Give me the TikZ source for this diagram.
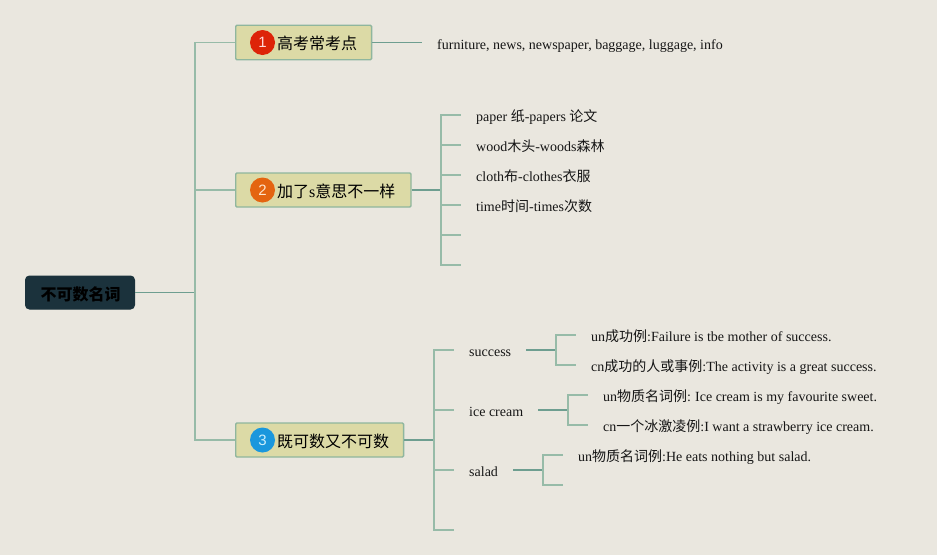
\documentclass[tikz,border=0pt]{standalone}
\usepackage{fontspec}
\setmainfont{Liberation Serif}
\newfontfamily\cjk{Noto Sans CJK SC}
\newfontfamily\badgefont{Liberation Sans}
\newcommand{\zh}[1]{{\cjk #1}}
\definecolor{paper}{HTML}{EAE7DF}
\definecolor{boxfill}{HTML}{DCDAA6}
\definecolor{boxline}{HTML}{8FB69E}
\definecolor{rootfill}{HTML}{1B323C}
\definecolor{lineA}{HTML}{6E9E90}
\definecolor{lineB}{HTML}{97BBA8}
\definecolor{inktext}{HTML}{161616}
\tikzset{
  x=1pt,y=-1pt,
  rootbox/.style={draw=rootfill,fill=rootfill,rounded corners=4pt,line width=1pt,minimum width=109pt,minimum height=33pt,inner sep=0pt},
  rootlabel/.style={inner sep=0pt,font=\cjk\bfseries\fontsize{16}{16}\selectfont,text=black},
  topicbox/.style={draw=boxline,fill=boxfill,rounded corners=1.2pt,line width=1.4pt,minimum height=34pt,anchor=west,inner sep=0pt},
  topiclabel/.style={anchor=base west,inner sep=0pt,font=\cjk\fontsize{16}{16}\selectfont,text=black},
  badge/.style={circle,minimum size=25pt,inner sep=0pt,font=\badgefont\fontsize{15}{15}\selectfont,text=#1},
  itemtext/.style={anchor=base west,inner sep=0pt,font=\fontsize{14}{14}\selectfont,text=inktext},
  spine/.style={line width=1.1pt,draw=lineB},
  stem/.style={line width=1.6pt,draw=lineA},
  thin link/.style={line width=1pt,draw=lineA},
  stub/.style={line width=1.1pt,draw=lineB}
}
\begin{document}
\begin{tikzpicture}
\useasboundingbox[fill=paper] (0,0) rectangle (937,555);
% root
\node[rootbox] (root) at (80,292.5) {};
\node[rootlabel] (rootl) at (80.5,294) {不可数名词};
% topic boxes
\node[topicbox,minimum width=135.9pt,minimum height=34.5pt] (t1) at (235,42.5) {};
\node[topicbox,minimum width=175.3pt] (t2) at (235,190) {};
\node[topicbox,minimum width=167.9pt] (t3) at (235,440) {};
\node[badge=white!85!red,fill={rgb,255:red,221;green,36;blue,8}] (b1) at (262.5,42.5) {1};
\node[badge=white!80!orange,fill={rgb,255:red,228;green,100;blue,16}] (b2) at (262.5,190) {2};
\node[badge=white!80!cyan,fill={rgb,255:red,26;green,151;blue,221}] (b3) at (262.5,440) {3};
\node[topiclabel] (l1) at (277,49.5) {高考常考点};
\node[topiclabel] (l2) at (277,197) {加了{\rmfamily s}意思不一样};
\node[topiclabel] (l3) at (277,447) {既可数又不可数};
% texts
\node[itemtext] (n1) at (437,49) {furniture, news, newspaper, baggage, luggage, info};
\node[itemtext] (p1) at (476,121) {paper \zh{纸}-papers \zh{论文}};
\node[itemtext] (p2) at (476,151) {wood\zh{木头}-woods\zh{森林}};
\node[itemtext] (p3) at (476,181) {cloth\zh{布}-clothes\zh{衣服}};
\node[itemtext] (p4) at (476,211) {time\zh{时间}-times\zh{次数}};
\node[itemtext] (q1) at (469,356) {success};
\node[itemtext] (q2) at (469,416) {ice cream};
\node[itemtext] (q3) at (469,476) {salad};
\node[itemtext] (u1) at (591,341) {un\zh{成功例}:Failure is tbe mother of success.};
\node[itemtext] (u2) at (591,371) {cn\zh{成功的人或事例}:The activity is a great success.};
\node[itemtext] (v1) at (603,401) {un\zh{物质名词例}:\hspace{-0.6pt} Ice cream is my favourite sweet.};
\node[itemtext] (v2) at (603,431) {cn\zh{一个冰激凌例}:I want a strawberry ice cream.};
\node[itemtext] (w1) at (578,461) {un\zh{物质名词例}:He eats nothing but salad.};
% junctions and free ends
\coordinate (fR) at (195,292.5);
\coordinate (f1) at (422,42.5);
\coordinate (f2) at (441,190);
\coordinate (f3) at (434,440);
\coordinate (e21) at (461,115);
\coordinate (e22) at (461,145);
\coordinate (e23) at (461,175);
\coordinate (e24) at (461,205);
\coordinate (e25) at (461,235);
\coordinate (e26) at (461,265);
\coordinate (e31) at (454,350);
\coordinate (e32) at (454,410);
\coordinate (e33) at (454,470);
\coordinate (e34) at (454,530);
\coordinate (s0) at (526,350);
\coordinate (sf) at (556,350);
\coordinate (s1) at (576,335);
\coordinate (s2) at (576,365);
\coordinate (i0) at (538,410);
\coordinate (if) at (568,410);
\coordinate (i1) at (588,395);
\coordinate (i2) at (588,425);
\coordinate (a0) at (513,470);
\coordinate (af) at (543,470);
\coordinate (a1) at (563,455);
\coordinate (a2) at (563,485);
% connectors
\draw[thin link] (root.east) -- (fR);
\draw[spine] (t1.west) -| (fR);
\draw[spine] (t2.west) -| (fR);
\draw[spine] (t3.west) -| (fR);
\draw[thin link] (t1.east) -- (f1);
\draw[stem] (t2.east) -- (f2);
\draw[stem] (t3.east) -- (f3);
\foreach \e in {e21,e22,e23,e24,e25,e26} \draw[stub] (f2) |- (\e);
\foreach \e in {e31,e32,e33,e34} \draw[stub] (f3) |- (\e);
\draw[stem] (s0) -- (sf);
\draw[stub] (sf) |- (s1);
\draw[stub] (sf) |- (s2);
\draw[stem] (i0) -- (if);
\draw[stub] (if) |- (i1);
\draw[stub] (if) |- (i2);
\draw[stem] (a0) -- (af);
\draw[stub] (af) |- (a1);
\draw[stub] (af) |- (a2);
\end{tikzpicture}
\end{document}
